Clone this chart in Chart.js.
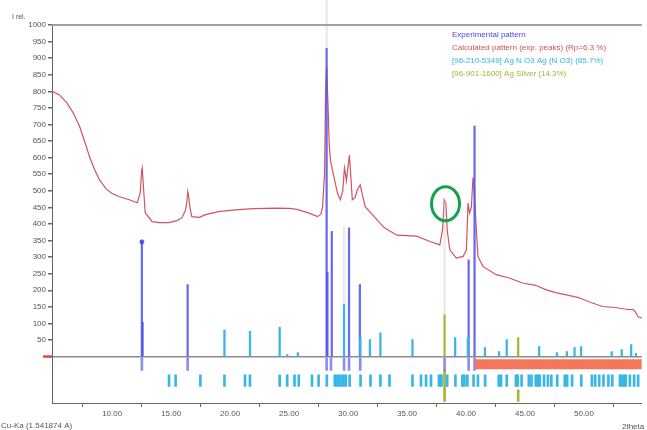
<!DOCTYPE html>
<html>
<head>
<meta charset="utf-8">
<script src="https://cdn.jsdelivr.net/npm/chart.js@4/dist/chart.umd.min.js"></script>
<style>
  html, body { margin: 0; padding: 0; background: #fff; }
  #wrap { width: 647px; height: 430px; position: relative; }
</style>
</head>
<body>
<div id="wrap"><canvas id="c"></canvas></div>
<script>
// Axis ticks
const xTickValues = [10, 15, 20, 25, 30, 35, 40, 45, 50];
const yTickValues = [0, 50, 100, 150, 200, 250, 300, 350, 400, 450, 500,
  550, 600, 650, 700, 750, 800, 850, 900, 950, 1000];

// Calculated pattern (2theta, I rel.)
const calcTheta = [4.90, 5.50, 6.16, 6.70, 7.25, 7.70, 8.09, 8.50, 8.93, 9.50, 10.00, 10.61,
  11.45, 12.13, 12.38, 12.50, 12.55, 12.63, 12.80, 13.39, 14.00, 14.82, 15.50, 15.91,
  16.20, 16.33, 16.41, 16.50, 16.58, 16.75, 17.40, 17.92, 19.02, 20.00, 21.00, 22.00,
  23.00, 24.00, 25.00, 25.70, 26.20, 26.59, 27.00, 27.42, 27.70, 27.84, 28.01, 28.09,
  28.18, 28.30, 28.40, 28.51, 28.85, 29.10, 29.35, 29.55, 29.69, 29.80, 29.86, 29.95,
  30.11, 30.20, 30.36, 30.60, 30.78, 31.03, 31.20, 31.45, 32.21, 33.05, 34.14, 35.00,
  35.82, 36.94, 37.78, 38.01, 38.15, 38.29, 38.40, 38.62, 39.18, 39.75, 40.03, 40.17,
  40.30, 40.45, 40.59, 40.70, 40.81, 41.01, 41.43, 42.55, 43.66, 44.79, 45.91, 46.75,
  47.59, 48.43, 49.53, 50.37, 51.55, 52.64, 53.74, 54.16, 54.33, 54.58, 54.83, 54.90];
const calcIntensity = [801, 790, 765, 735, 693, 645, 602, 565, 533, 505, 492, 482,
  473, 464, 494, 560, 569, 524, 434, 407, 404, 404, 410, 419,
  440, 464, 497, 480, 452, 422, 420, 428, 437, 441, 444, 446,
  447, 448, 447, 444, 438, 434, 428, 422, 430, 452, 554, 795,
  873, 760, 640, 590, 534, 493, 473, 500, 569, 545, 530, 560,
  608, 560, 473, 480, 503, 518, 490, 452, 422, 389, 366, 365,
  363, 347, 337, 383, 473, 463, 383, 322, 297, 302, 322, 463,
  433, 450, 540, 500, 422, 302, 272, 247, 237, 222, 215, 202,
  193, 187, 178, 166, 151, 148, 142, 142, 136, 120, 117, 115];

// Experimental peaks
const expTheta = [12.52, 12.58, 16.40, 28.18, 28.25, 28.62, 30.08, 31.00, 40.22, 40.72];
const expIntensity = [346, 103, 217, 930, 253, 378, 388, 217, 292, 695];

// [96-210-5349] Ag N O3 peaks
const agno3Theta = [19.52, 21.68, 24.20, 24.84, 25.74, 29.66, 31.05, 31.85, 32.74, 35.46,
  39.08, 40.15, 41.60, 42.80, 43.45, 46.20, 47.70, 48.55, 49.20, 49.75, 52.35, 53.20, 54.00, 54.40];
const agno3Intensity = [81, 76, 88, 6, 12, 157, 57, 51, 72, 51,
  57, 57, 27, 15, 51, 30, 12, 15, 27, 30, 15, 21, 36, 10];

// [96-901-1600] Ag Silver peaks
const agTheta = [38.18, 44.42];
const agIntensity = [126, 57];

// Faint peak extensions (2theta, from, to)
const ghostTheta = [28.18, 29.66, 38.18];
const ghostFrom = [930, 157, 126];
const ghostTo = [1080, 393, 470];

// Peak position markers below the zero line
const expMarkTheta = [12.52, 16.40, 28.18, 28.55, 29.66, 30.08, 31.03, 38.18, 40.22, 40.72];
const agno3RefTheta = [14.82, 15.38, 17.48, 19.52, 21.26, 21.68, 24.20, 24.84, 25.46, 25.82,
  26.94, 27.50, 28.20, 28.87, 29.04, 29.24, 29.44, 29.61, 29.80, 30.13, 31.06, 31.90,
  32.74, 33.51, 35.46, 36.18, 36.61, 37.03, 37.70, 37.84, 37.92, 38.40, 39.10, 39.69,
  39.86, 40.11, 40.64, 41.01, 41.62, 42.77, 42.97, 43.45, 44.23, 44.37, 44.71, 45.32,
  45.55, 45.91, 46.08, 46.25, 46.61, 46.94, 47.23, 47.73, 48.37, 48.57, 48.99, 49.77,
  50.67, 50.95, 51.29, 51.65, 52.07, 52.40, 53.05, 53.22, 53.39, 53.53, 53.89, 54.25, 54.59];
const agRefTheta = [38.18, 44.42];
const agRefTop = [-40, -100];

// Unmatched region band
const unmatchedTheta = [40.75, 54.9];

const FONT = "'Liberation Sans', Arial, sans-serif";
const C_EXP = 'rgba(80,80,236,0.85)';
const C_CALC = '#d05560';
const C_AGNO3 = '#38b6e8';
const C_AG = '#a9b23a';

const sticks = (theta, vals, color, extra = {}) => Object.assign({
  type: 'bar',
  data: theta.map((t, i) => ({ x: t, y: vals[i] })),
  backgroundColor: color,
  barThickness: 1.6,
  grouped: false,
  borderWidth: 0,
  order: 1
}, extra);

const ranges = (theta, lo, hi, color, extra = {}) => Object.assign({
  type: 'bar',
  data: theta.map((t, i) => ({ x: t, y: [Array.isArray(lo) ? lo[i] : lo, Array.isArray(hi) ? hi[i] : hi] })),
  backgroundColor: color,
  barThickness: 2,
  grouped: false,
  borderWidth: 0,
  order: 1
}, extra);

const decor = {
  id: 'decor',
  afterDraw(chart) {
    const { ctx, chartArea: a, scales: { x, y } } = chart;
    ctx.save();
    // top frame
    ctx.strokeStyle = '#a0a0a0';
    ctx.lineWidth = 2;
    ctx.beginPath();
    ctx.moveTo(a.left, a.top);
    ctx.lineTo(a.right, a.top);
    ctx.stroke();
    // zero marker on the axis
    const y0 = y.getPixelForValue(0);
    ctx.strokeStyle = '#e8443a';
    ctx.lineWidth = 2.5;
    ctx.beginPath();
    ctx.moveTo(a.left - 9, y0);
    ctx.lineTo(a.left, y0);
    ctx.stroke();
    // highlighted Ag peak
    ctx.strokeStyle = '#16a04e';
    ctx.lineWidth = 3;
    ctx.beginPath();
    ctx.ellipse(x.getPixelForValue(38.26), y.getPixelForValue(461), 14, 17, 0, 0, Math.PI * 2);
    ctx.stroke();
    // texts
    ctx.textBaseline = 'middle';
    ctx.textAlign = 'left';
    ctx.fillStyle = '#555';
    ctx.font = '7px ' + FONT;
    ctx.fillText('I rel.', 12, 17);
    ctx.font = '8px ' + FONT;
    ctx.fillText('Cu-Ka (1.541874 A)', 1, 426);
    ctx.fillText('2theta', 622, 427);
    const legend = [
      ['Experimental pattern', '#4646ea'],
      ['Calculated pattern (exp. peaks) (Rp=6.3 %)', '#d0505a'],
      ['[96-210-5349] Ag N O3 Ag (N O3) (85.7%)', '#33b3e8'],
      ['[96-901-1600] Ag Silver (14.3%)', '#a8b23a']
    ];
    ctx.font = '8px ' + FONT;
    legend.forEach(([t, c], i) => {
      ctx.fillStyle = c;
      ctx.fillText(t, 452, 35 + i * 13);
    });
    ctx.restore();
  }
};

new Chart(document.getElementById('c'), {
  type: 'bar',
  data: {
    datasets: [
      {
        type: 'line',
        label: 'Calculated pattern (exp. peaks) (Rp=6.3 %)',
        data: calcTheta.map((t, i) => ({ x: t, y: calcIntensity[i] })),
        borderColor: C_CALC,
        borderWidth: 1.2,
        pointRadius: 0,
        tension: 0,
        order: 3
      },
      ranges(ghostTheta, ghostFrom, ghostTo, 'rgba(205,205,205,0.45)', { order: 2, clip: false, barThickness: 1.5 }),
      sticks(agno3Theta, agno3Intensity, C_AGNO3),
      sticks(agTheta, agIntensity, C_AG),
      sticks(expTheta, expIntensity, C_EXP),
      {
        type: 'scatter',
        data: [{ x: expTheta[0], y: expIntensity[0] }],
        pointStyle: 'star',
        pointRadius: 2.5,
        borderColor: '#4646ea',
        backgroundColor: '#4646ea',
        borderWidth: 1.2,
        order: 0
      },
      {
        type: 'line',
        data: unmatchedTheta.map(t => ({ x: t, y: -23 })),
        borderColor: '#f4775c',
        borderWidth: 10,
        borderCapStyle: 'butt',
        pointRadius: 0,
        order: 1
      },
      ranges(expMarkTheta, -4, -42, 'rgba(120,120,240,0.85)'),
      ranges(agno3RefTheta, -55, -90, C_AGNO3),
      ranges(agRefTheta, agRefTop, -135, C_AG)
    ]
  },
  options: {
    responsive: true,
    maintainAspectRatio: false,
    animation: false,
    layout: { padding: { top: 25, right: 0, left: 0, bottom: 0 } },
    plugins: { legend: { display: false }, tooltip: { enabled: false } },
    scales: {
      x: {
        type: 'linear',
        min: 4.9,
        max: 54.9,
        offset: false,
        afterBuildTicks: s => { s.ticks = xTickValues.map(v => ({ value: v })); },
        afterFit: s => { s.height = 27; },
        grid: { drawOnChartArea: false, drawTicks: true, tickLength: 4, color: '#666' },
        border: { display: true, color: '#666', width: 1 },
        ticks: {
          font: { family: FONT, size: 8 },
          color: '#555',
          padding: 2,
          maxRotation: 0,
          autoSkip: false,
          callback: v => Number(v).toFixed(2)
        }
      },
      y: {
        type: 'linear',
        min: -140,
        max: 1000,
        afterBuildTicks: s => { s.ticks = yTickValues.map(v => ({ value: v })); },
        afterFit: s => { s.width = 52; },
        grid: {
          drawOnChartArea: true,
          drawTicks: true,
          tickLength: 4,
          lineWidth: 1.5,
          color: c => (c.tick && c.tick.value === 0 ? '#8c8c8c' : 'rgba(0,0,0,0)'),
          tickColor: c => (c.tick && c.tick.value === 0 ? 'rgba(0,0,0,0)' : '#666')
        },
        border: { display: true, color: '#666', width: 1 },
        ticks: {
          font: { family: FONT, size: 8 },
          color: '#555',
          padding: 2,
          autoSkip: false,
          callback: v => (v === 0 ? '' : String(v))
        }
      }
    }
  },
  plugins: [decor]
});
</script>
</body>
</html>
